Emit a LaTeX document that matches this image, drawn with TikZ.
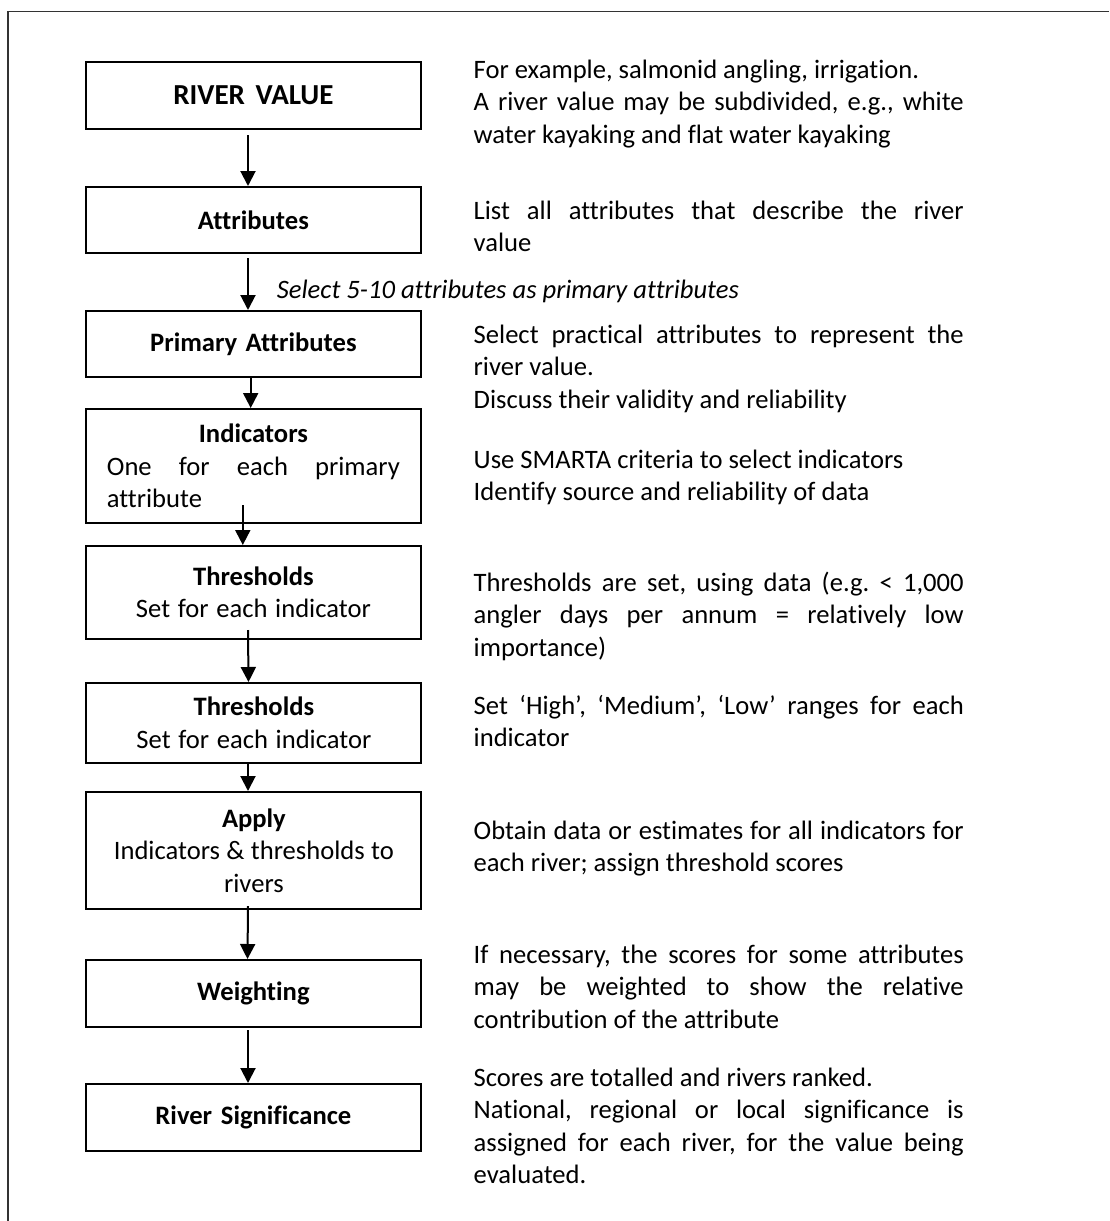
\documentclass[tikz,border=0pt]{standalone}
\usepackage{fontspec}
\setmainfont{Carlito}[Ligatures={NoCommon}]
\usetikzlibrary{arrows.meta}
\newcommand\resetsp{\spaceskip=0pt\relax\xspaceskip=0pt\relax}
\newcommand\jline[1]{\makebox[490pt][s]{\resetsp #1}}
\newcommand\jbox[1]{\makebox[293pt][s]{\resetsp #1}}
\frenchspacing
\begin{document}
\begin{tikzpicture}[x=1pt,y=-1pt,
  every node/.style={font=\fontsize{26.6}{32.5}\selectfont\frenchspacing,execute at begin node={\resetsp}},
  box/.style={draw,line width=2pt,minimum width=335pt,text width=293pt,inner xsep=21pt,inner ysep=0pt,align=center},
  desc/.style={anchor=base west,text width=490pt,inner sep=0pt,align=left},
  arr/.style={line width=2pt,-{Triangle[width=15pt,length=15pt]}},
  frameline/.style={line width=1.5pt,black!80}]
\useasboundingbox (0,0) rectangle (1109,1221);
\fill[white] (0,0) rectangle (1109,1221);
\draw[frameline] (1109,11.7) -- (8,11.7) -- (8,1221);

% boxes
\node[box,minimum height=67pt] (rv) at (253.4,95.5) {\fontsize{29}{34}\selectfont\bfseries RIVER VALUE};
\node[box,minimum height=66pt] (attr) at (253.4,220) {\bfseries Attributes};
\node[box,minimum height=66pt] (prim) at (253.4,344) {\bfseries Primary Attributes};
\node[box,minimum height=114pt] (ind) at (253.4,466) {\textbf{Indicators}\\\jbox{One for each primary}\\\makebox[293pt][l]{attribute}};
\node[box,minimum height=93pt] (thr1) at (253.4,592.5) {\textbf{Thresholds}\\Set for each indicator};
\node[box,minimum height=80pt] (thr2) at (253.9,723) {\textbf{Thresholds}\\Set for each indicator};
\node[box,minimum height=117pt] (apply) at (253.9,850.5) {\textbf{Apply}\\Indicators \& thresholds to\\rivers};
\node[box,minimum height=67pt] (wt) at (253.4,993.5) {\bfseries Weighting};
\node[box,minimum height=67pt] (rs) at (253.4,1117.5) {\bfseries River Significance};

% descriptions
\node[desc] (d1) at (473.5,78) {For example, salmonid angling, irrigation.\\\jline{A river value may be subdivided, e.g., white}\\water kayaking and flat water kayaking};
\node[desc] (d2) at (473.5,219) {\jline{List all attributes that describe the river}\\value};
\node[desc] (d3) at (473.5,343) {\jline{Select practical attributes to represent the}\\river value.\\Discuss their validity and reliability};
\node[desc] (d4) at (473.5,468) {Use SMARTA criteria to select indicators\\Identify source and reliability of data};
\node[desc] (d5) at (473.5,591) {\jline{Thresholds are set, using data (e.g. < 1,000}\\\jline{angler days per annum = relatively low}\\importance)};
\node[desc] (d6) at (473.5,714) {\jline{Set ‘High’, ‘Medium’, ‘Low’ ranges for each}\\indicator};
\node[desc] (d7) at (473.5,839) {\jline{Obtain data or estimates for all indicators for}\\each river; assign threshold scores};
\node[desc] (d8) at (473.5,963) {\jline{If necessary, the scores for some attributes}\\\jline{may be weighted to show the relative}\\contribution of the attribute};
\node[desc] (d9) at (473.5,1086) {Scores are totalled and rivers ranked.\\\jline{National, regional or local significance is}\\\jline{assigned for each river, for the value being}\\evaluated.};

\node[anchor=base west,inner sep=0pt] (sel) at (276.7,298) {\itshape Select 5-10 attributes as primary attributes};

% arrows
\draw[arr] ([xshift=-5.4pt,yshift=-5pt]rv.south) -- ([xshift=-5.4pt]attr.north);
\draw[arr] ([xshift=-5.4pt,yshift=-4pt]attr.south) -- ([xshift=-5.4pt]prim.north);
\draw[arr] ([xshift=-2.7pt]prim.south) -- ([xshift=-2.7pt]ind.north);
\draw[arr] ([xshift=-10.6pt,yshift=19pt]ind.south) -- ([xshift=-10.6pt]thr1.north);
\draw[arr] ([xshift=-5.4pt,yshift=10pt]thr1.south) -- ([xshift=-5.4pt]thr2.north);
\draw[arr] ([xshift=-5.9pt]thr2.south) -- ([xshift=-5.9pt]apply.north);
\draw[arr] ([xshift=-5.9pt,yshift=4pt]apply.south) -- ([xshift=-5.9pt]wt.north);
\draw[arr] ([xshift=-5.4pt,yshift=-2pt]wt.south) -- ([xshift=-5.4pt]rs.north);
\end{tikzpicture}
\end{document}
